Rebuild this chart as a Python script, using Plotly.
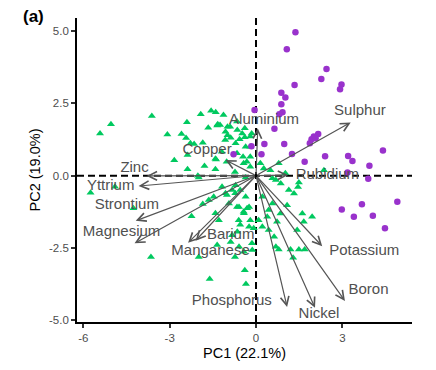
import plotly.graph_objects as go

# ---- data ----
green_x = [-5.42, -5.04, -3.62, -3.08, -2.59, -2.43, -2.40, -1.92, -1.56, -1.40, -1.66, -1.35, -2.15, -1.85,
           -2.84, -2.38, -2.38, -1.79, -2.02, -1.41, -1.41, -1.13, -1.33, -0.99, -1.06, -0.99, -0.65, -0.48,
           -0.39, -2.28, -0.88, -0.71, -0.57, -0.39, -0.15, -0.36, -0.45, -0.32, -1.39, -1.02, -0.73, -1.99,
           -0.36, -1.25, -0.90, -1.07, -0.20, -0.20, -1.19, -0.66, -0.20, -0.43, -0.20, 0.15, 0.27, 0.50,
           0.79, 1.02, 2.36, 1.49, -0.66,
           -1.01, -0.72, -0.55, -0.66, -0.43, -0.31, -0.60, -0.55, -0.20, -0.08, 0.09, -0.14, 0.44, 0.73,
           0.85, 1.08, 1.14, 1.61, 1.66, 1.95, 1.43, 0.44, 0.79, 1.20, 1.49, 1.69, 1.29, -0.39, -0.35,
           -5.75, -4.90, -4.26, -3.65, -2.24, -1.85, -1.64, -1.41, -1.99, -1.61, -1.35,
           -1.47, -1.06, -1.18, -0.83, -0.71, -0.94, -1.29, -0.59, -0.36, -0.24, -0.42, -0.24, -0.65,
           -0.83, -0.88, -0.59, -0.42, -0.13, -0.73,
           0.22, 0.57, 0.39, 0.22, 0.63, 0.69, 0.57, 0.69, 0.86, 1.46, 1.32]
green_y = [1.46, 1.78, 2.06, 1.42, 1.44, 1.30, 1.85, 2.12, 2.24, 2.19, 1.66, 1.73, 1.09, 1.14,
           0.53, 0.71, 0.22, 0.33, 0.00, 0.22, 0.58, 2.10, 1.78, 1.69, 1.52, 1.40, 1.58, 1.46,
           1.64, 1.12, 1.31, 1.12, 1.26, 1.33, 1.46, 1.00, 0.65, 0.48, 0.56, 0.48, 0.13, -0.06,
           -0.06, 1.75, 1.69, 1.23, 1.35, 1.00, 0.83, 0.77, 0.65, 0.43, 0.31, 0.43, 0.25, 0.19,
           0.43, 0.08, 0.19, -0.24, 1.87,
           -0.67, -0.61, -0.50, -1.08, -1.25, -1.13, -1.54, -1.70, -1.54, -1.82, -1.54, -2.34, -1.19, -1.59,
           -1.31, -1.02, -0.50, -1.31, -1.59, -1.42, -1.88, -1.88, -2.55, -2.55, -2.55, -2.55, -2.84, -3.27, -3.75,
           -0.59, -0.38, -1.13, -2.81, -1.40, -0.98, -0.84, -1.30, -2.81, -3.57, -2.40,
           -0.73, -0.61, -0.38, -0.50, -0.33, -0.96, -1.54, -1.08, -0.73, -1.08, -1.30, -1.77, -1.94,
           -2.06, -2.29, -2.46, -2.63, -2.57, -2.81,
           -0.73, -0.96, -1.42, -1.77, -2.11, -2.46, -0.09, -0.15, -0.27, -0.39, -0.62]

purple_x = [1.37, 1.07, 2.45, 2.27, 2.97, 2.92, 1.34, 0.88, 1.02, 0.88, 0.92, 0.81, -0.05, 0.64,
            0.29, -0.16, 0.98, 0.19, 1.25, 1.69, 2.40, 3.20, 3.35, 3.94, 4.41, 3.18, 3.90, 2.16,
            2.01, 1.93, 1.87, 2.07, -0.78, 2.98, 3.68, 4.91, 3.40, 4.06, 4.48]
purple_y = [4.96, 4.37, 3.69, 3.34, 3.15, 2.99, 3.13, 2.87, 2.70, 2.47, 2.19, 2.12, 2.27, 1.62,
            1.09, 1.02, 1.09, 0.74, 0.75, 0.48, 0.67, 0.68, 0.51, 0.34, 0.87, 0.11, -0.11, 1.44,
            1.35, 1.26, 1.12, 1.29, 0.74, -1.17, -0.99, -0.90, -1.42, -1.39, -1.82]

load_names = ["Aluminium", "Copper", "Zinc", "Yttrium", "Strontium", "Magnesium", "Manganese",
              "Barium", "Phosphorus", "Nickel", "Boron", "Potassium", "Rubidium", "Sulphur"]
load_x = [0.06, -1.06, -3.80, -4.08, -4.18, -4.22, -2.36, -2.10, 1.08, 2.05, 3.09, 2.30, 1.12, 3.29]
load_y = [1.64, 0.54, -0.01, -0.36, -1.56, -2.34, -2.32, -2.25, -4.54, -4.57, -4.33, -2.44, 0.02, 1.84]
label_x = [0.28, -1.70, -4.22, -5.05, -4.49, -4.67, -1.58, -0.88, -0.84, 2.19, 3.91, 3.76, 2.48, 3.61]
label_y = [1.92, 0.89, 0.25, -0.36, -1.02, -1.94, -2.60, -2.06, -4.34, -4.80, -3.96, -2.61, 0.02, 2.21]

x_ticks = [-6, -3, 0, 3]
y_ticks = [-5.0, -2.5, 0.0, 2.5, 5.0]

FONT = "Liberation Sans, Arial, sans-serif"

fig = go.Figure()
fig.add_trace(go.Scatter(x=green_x, y=green_y, mode="markers",
                         marker=dict(symbol="triangle-up", size=7, color="#00C95F"),
                         hoverinfo="skip", showlegend=False))
fig.add_trace(go.Scatter(x=purple_x, y=purple_y, mode="markers",
                         marker=dict(symbol="circle", size=6.5, color="#9932CC"),
                         hoverinfo="skip", showlegend=False))
fig.add_trace(go.Scatter(x=label_x, y=label_y, mode="text", text=load_names,
                         textfont=dict(family=FONT, size=15, color="#505050"),
                         hoverinfo="skip", showlegend=False))

for lx, ly in zip(load_x, load_y):
    fig.add_annotation(x=lx, y=ly, ax=0, ay=0, xref="x", yref="y", axref="x", ayref="y",
                       text="", showarrow=True, arrowhead=5, arrowsize=1.4, arrowwidth=1.2,
                       arrowcolor="#555555", standoff=0, startstandoff=0)

# dashed reference lines
fig.add_shape(type="line", xref="paper", yref="y", x0=0, x1=1, y0=0, y1=0,
              line=dict(color="black", width=2, dash="7px,4px"), layer="below")
fig.add_shape(type="line", xref="x", yref="paper", x0=0, x1=0, y0=0, y1=1,
              line=dict(color="black", width=2, dash="7px,4px"), layer="below")

fig.add_annotation(text="<b>(a)</b>", xref="paper", yref="paper", x=-0.168, y=1.005,
                   xanchor="left", yanchor="middle", showarrow=False,
                   font=dict(family=FONT, size=17, color="black"))
fig.add_annotation(text="<b>(b)</b>", xref="paper", yref="paper", x=-0.168, y=-0.155,
                   xanchor="left", yanchor="top", showarrow=False,
                   font=dict(family=FONT, size=17, color="black"))

fig.update_layout(
    width=436, height=370,
    margin=dict(l=77, r=24, t=18, b=48),
    paper_bgcolor="white", plot_bgcolor="white",
    font=dict(family=FONT),
    xaxis=dict(range=[-6.22, 5.42], tickvals=x_ticks, ticktext=[str(v) for v in x_ticks],
               showgrid=False, zeroline=False, showline=True, linecolor="black", linewidth=1.8,
               ticks="outside", ticklen=4, tickwidth=1.5, tickcolor="#333333",
               tickfont=dict(family=FONT, size=11.5, color="#4d4d4d"),
               title=dict(text="PC1 (22.1%)", font=dict(family=FONT, size=14.5, color="black"),
                          standoff=5)),
    yaxis=dict(range=[-5.06, 5.45], tickvals=y_ticks, ticktext=[f"{v:.1f}" for v in y_ticks],
               showgrid=False, zeroline=False, showline=True, linecolor="black", linewidth=1.8,
               ticks="outside", ticklen=4, tickwidth=1.5, tickcolor="#333333",
               tickfont=dict(family=FONT, size=11.5, color="#4d4d4d"),
               title=dict(text="PC2 (19.0%)", font=dict(family=FONT, size=14.5, color="black"),
                          standoff=5)),
)

fig.write_html("out.html")
